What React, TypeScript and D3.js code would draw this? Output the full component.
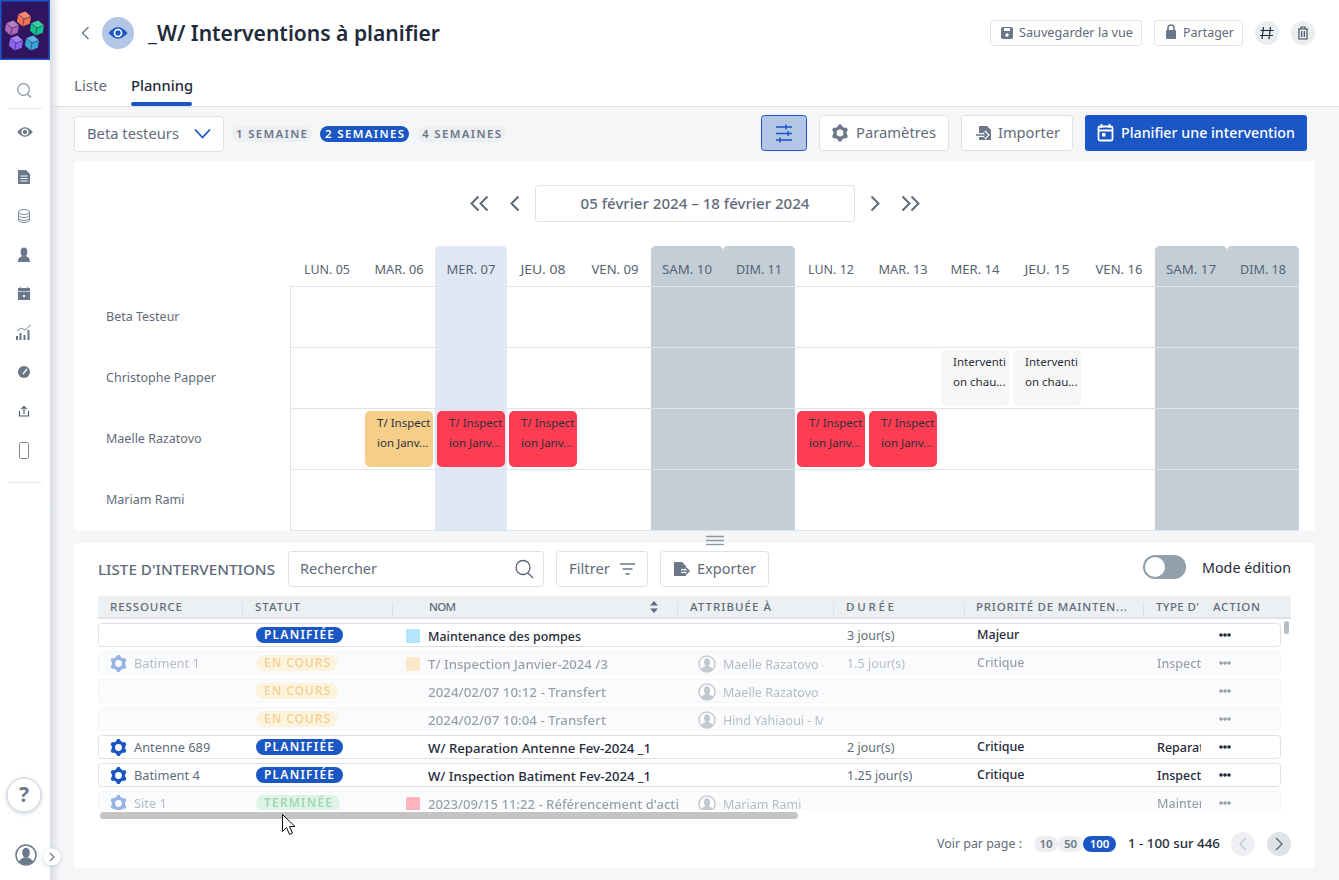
import { path, range, scaleBand, scaleLinear } from "d3";
import type { ReactNode } from "react";

const days = ["LUN. 05", "MAR. 06", "MER. 07", "JEU. 08", "VEN. 09", "SAM. 10", "DIM. 11", "LUN. 12", "MAR. 13", "MER. 14", "JEU. 15", "VEN. 16", "SAM. 17", "DIM. 18"];
const weekendDays = ["SAM. 10", "DIM. 11", "SAM. 17", "DIM. 18"];
const currentDay = "MER. 07";
const resources = ["Beta Testeur", "Christophe Papper", "Maelle Razatovo", "Mariam Rami"];

const eventResources = ["Maelle Razatovo", "Maelle Razatovo", "Maelle Razatovo", "Maelle Razatovo", "Maelle Razatovo", "Christophe Papper", "Christophe Papper"];
const eventDays = ["MAR. 06", "MER. 07", "JEU. 08", "LUN. 12", "MAR. 13", "MER. 14", "JEU. 15"];
const eventLines = [
    ["T/ Inspect", "ion Janv..."], ["T/ Inspect", "ion Janv..."], ["T/ Inspect", "ion Janv..."],
    ["T/ Inspect", "ion Janv..."], ["T/ Inspect", "ion Janv..."],
    ["Interventi", "on chau..."], ["Interventi", "on chau..."],
];
const eventKinds = ["late", "over", "over", "over", "over", "idle", "idle"];

const headers = ["RESSOURCE", "STATUT", "NOM", "ATTRIBUÉE À", "DURÉE", "PRIORITÉ DE MAINTEN...", "TYPE D'", "ACTION"];
const rowResources = ["", "Batiment 1", "", "", "Antenne 689", "Batiment 4", "Site 1"];
const rowStatuses = ["PLANIFIÉE", "EN COURS", "EN COURS", "EN COURS", "PLANIFIÉE", "PLANIFIÉE", "TERMINÉE"];
const rowNames = ["Maintenance des pompes", "T/ Inspection Janvier-2024 /3", "2024/02/07 10:12 - Transfert", "2024/02/07 10:04 - Transfert", "W/ Reparation Antenne Fev-2024 _1", "W/ Inspection Batiment Fev-2024 _1", "2023/09/15 11:22 - Référencement d'actifs"];
const rowAssignees = ["", "Maelle Razatovo - M", "Maelle Razatovo - M", "Hind Yahiaoui - Maintenance", "", "", "Mariam Rami"];
const rowDurations = ["3 jour(s)", "1.5 jour(s)", "", "", "2 jour(s)", "1.25 jour(s)", ""];
const rowPriorities = ["Majeur", "Critique", "", "", "Critique", "Critique", ""];
const rowTypes = ["", "Inspection", "", "", "Reparation", "Inspection", "Maintenance"];
const rowSwatches = ["plan", "late", "", "", "", "", "over"];
const rowMuted = [false, true, true, true, false, false, true];
const perPage = ["10", "50", "100"];

const FONT = "'Noto Sans', sans-serif";
const BLUE = "#1a56c4";
const INK = "#1f2a3a";
const GREY = "#5f6b7a";
const LINE = "#dde1e6";

const eventColors: Record<string, string> = { late: "#f5cf8a", over: "#ff3d52", idle: "#f8f7f8" };
const swatchColors: Record<string, string> = { plan: "#b3e5fc", late: "#f5cf8a", over: "#ff5b6e" };
const statusStyles: Record<string, { fill: string; text: string; width: number; textWidth: number }> = {
    "PLANIFIÉE": { fill: BLUE, text: "#ffffff", width: 87, textWidth: 70 },
    "EN COURS": { fill: "#fbe6b4", text: "#e59a1c", width: 82, textWidth: 66 },
    "TERMINÉE": { fill: "#b5e8c8", text: "#2fa560", width: 84, textWidth: 68 },
};
const dayWidths: Record<string, number> = { LUN: 46, MAR: 49, MER: 49, JEU: 45, VEN: 47, SAM: 50, DIM: 46 };
const nameWidths = [153, 180, 178, 178, 223, 223, 262];
const headerX = [110, 255, 429, 690, 846, 976, 1156, 1213];
const headerW = [72, 45, 27, 81, 48, 151, 43, 47];
const separators = [242, 392, 677, 833, 964, 1143];

const dayX = scaleBand<string>().domain(days).range([291, 1299]);
const resourceY = scaleBand<string>().domain(resources).range([287, 531]);
const rowY = scaleLinear().domain([0, 1]).range([623, 651]);

interface LabelProps {
    x: number;
    y: number;
    size?: number;
    weight?: number;
    fill?: string;
    w?: number;
    spaced?: boolean;
    anchor?: "start" | "middle" | "end";
    children: ReactNode;
}

function Label({ x, y, size = 13, weight = 400, fill = GREY, w, spaced = false, anchor = "start", children }: LabelProps) {
    return (
        <text
            x={x}
            y={y}
            fontSize={size}
            fontWeight={weight}
            fill={fill}
            textAnchor={anchor}
            textLength={w}
            lengthAdjust={w ? (spaced ? "spacing" : "spacingAndGlyphs") : undefined}
        >
            {children}
        </text>
    );
}

function Box({ x, y, width, height, fill = "#fff", stroke = LINE, r = 3 }: { x: number; y: number; width: number; height: number; fill?: string; stroke?: string; r?: number }) {
    return <rect x={x + 0.5} y={y + 0.5} width={width - 1} height={height - 1} rx={r} fill={fill} stroke={stroke} />;
}

function Chevron({ x, y, dir = 1, h = 6, color = GREY, width = 1.8 }: { x: number; y: number; dir?: number; h?: number; color?: string; width?: number }) {
    const p = path();
    p.moveTo(x - (dir * h) / 2, y - h);
    p.lineTo(x + (dir * h) / 2, y);
    p.lineTo(x - (dir * h) / 2, y + h);
    return <path d={p.toString()} fill="none" stroke={color} strokeWidth={width} />;
}

// six teeth, four corners each
function gearPath(cx: number, cy: number, r: number, hole: number) {
    const p = path();
    range(24).forEach((i) => {
        const a = (i / 24) * 2 * Math.PI - Math.PI / 2 - Math.PI / 24;
        const rr = i % 4 < 2 ? r : r * 0.78;
        const px = cx + rr * Math.cos(a);
        const py = cy + rr * Math.sin(a);
        if (i === 0) p.moveTo(px, py);
        else p.lineTo(px, py);
    });
    p.closePath();
    p.moveTo(cx + hole, cy);
    p.arc(cx, cy, hole, 0, 2 * Math.PI);
    return p.toString();
}

function Gear({ x, y, r, color }: { x: number; y: number; r: number; color: string }) {
    return <path d={gearPath(x, y, r, r * 0.4)} fill={color} fillRule="evenodd" />;
}

function Avatar({ x, y, r, color }: { x: number; y: number; r: number; color: string }) {
    return (
        <g>
            <circle cx={x} cy={y} r={r} fill="#fff" stroke={color} strokeWidth={1.5} />
            <ellipse cx={x} cy={y - r * 0.22} rx={r * 0.38} ry={r * 0.5} fill={color} />
            <path d={`M${x - r * 0.75} ${y + r * 0.65} Q${x} ${y - r * 0.2} ${x + r * 0.75} ${y + r * 0.65} Q${x} ${y + r * 1.2} ${x - r * 0.75} ${y + r * 0.65}Z`} fill={color} />
        </g>
    );
}

function Eye({ x, y, s, color }: { x: number; y: number; s: number; color: string }) {
    return (
        <g transform={`translate(${x},${y}) scale(${s})`}>
            <path d="M-10 0 Q0 -12 10 0 Q0 12 -10 0Z" fill={color} />
            <circle r={4.6} fill="#fff" />
            <circle r={2.8} fill={color} />
        </g>
    );
}

function Doc({ x, y, color, mark }: { x: number; y: number; color: string; mark: string }) {
    const arrow = mark === "arrow" ? "M-9 2 H2 M-1 -1 L2 2 L-1 5" : "M1 2 H9 M6 -1 L9 2 L6 5";
    return (
        <g transform={`translate(${x},${y})`}>
            <path d="M-6 -7 H2 L6 -3 V7 H-6Z" fill={color} />
            {mark === "lines" && <path d="M-3.5 -1 H3.5 M-3.5 1.5 H3.5 M-3.5 4 H3.5" stroke="#fff" strokeWidth={1} />}
            {mark !== "lines" && <path d={arrow} stroke="#fff" strokeWidth={4} fill="none" />}
            {mark !== "lines" && <path d={arrow} stroke={color} strokeWidth={1.6} fill="none" />}
        </g>
    );
}

function Cube({ x, y, color }: { x: number; y: number; color: string }) {
    const r = 7.5;
    const pts = range(6).map((i) => {
        const a = (Math.PI / 3) * i - Math.PI / 2 + 0.18;
        return [x + r * Math.cos(a), y + r * Math.sin(a)];
    });
    const hex = pts.map((p) => p.join(",")).join(" ");
    const lid = [pts[5], pts[0], pts[1], [x, y]].map((p) => p.join(",")).join(" ");
    return (
        <g>
            <polygon points={hex} fill={color} />
            <polygon points={lid} fill="#fff" opacity={0.18} />
            <path d={`M${x} ${y} L${pts[1][0]} ${pts[1][1]} M${x} ${y} L${pts[3][0]} ${pts[3][1]} M${x} ${y} L${pts[5][0]} ${pts[5][1]}`} stroke="#2f1460" strokeWidth={0.6} />
        </g>
    );
}

function Sidebar() {
    const iconColor = "#6b7889";
    return (
        <g>
            <rect x={50} width={10} height={880} fill="url(#sideShadow)" />
            <rect width={50} height={880} fill="#fff" />
            <rect x={0.75} y={0.75} width={48.5} height={58.5} fill="#2f1460" stroke={BLUE} strokeWidth={1.5} />
            <Cube x={24} y={19} color="#f0714e" />
            <Cube x={12} y={28} color="#a866b4" />
            <Cube x={37} y={28} color="#12c48c" />
            <Cube x={16} y={43} color="#8a66f0" />
            <Cube x={32} y={43} color="#3aa6d8" />

            <circle cx={23.5} cy={89.5} r={5.8} fill="none" stroke="#8792a0" strokeWidth={1.2} />
            <path d="M27.5 94 L31 97.5" stroke="#8792a0" strokeWidth={1.2} />
            <path d="M8 108.5 H42 M8 482.5 H42" stroke="#e8eaed" />
            <Eye x={25} y={132} s={0.78} color={iconColor} />
            <Doc x={24} y={177} color={iconColor} mark="lines" />
            <g fill="none" stroke="#8792a0" strokeWidth={1}>
                <ellipse cx={24} cy={212} rx={5.5} ry={2.5} />
                <path d="M18.5 212 V220 A5.5 2.5 0 0 0 29.5 220 V212 M18.5 215 A5.5 2.5 0 0 0 29.5 215 M18.5 218 A5.5 2.5 0 0 0 29.5 218" />
            </g>
            <ellipse cx={24} cy={252} rx={3.4} ry={4.5} fill={iconColor} />
            <path d="M18 262 C18 257 21 257 24 255 C27 257 30 257 30 262Z" fill={iconColor} />
            <rect x={18} y={288} width={12} height={12} fill={iconColor} />
            <path d="M20.5 287 V289 M27.5 287 V289" stroke={iconColor} strokeWidth={1} />
            <path d="M18 291.5 H30" stroke="#fff" strokeWidth={0.6} />
            <rect x={23} y={295} width={2} height={2} fill="#fff" />
            <path d="M17 340 V336 M20.5 340 V333 M24.5 340 V335 M28.5 340 V330" stroke={iconColor} strokeWidth={2} />
            <path d="M17 331 L21 328 L25 330 L31 325" fill="none" stroke={iconColor} strokeWidth={0.9} />
            <circle cx={24} cy={372} r={6} fill={iconColor} />
            <path d="M23 374 L27 369" stroke="#fff" strokeWidth={1.3} />
            <path d="M19.5 411 V416 H28.5 V411 M24 414 V406.5 M21.5 409 L24 406.5 L26.5 409" fill="none" stroke="#4a5666" strokeWidth={1.1} />
            <rect x={19.5} y={442.5} width={9} height={16} rx={1} fill="none" stroke="#7e8a98" strokeWidth={1} />

            <circle cx={24} cy={795} r={17} fill="#fff" stroke="#c8d2dc" strokeWidth={1} filter="url(#softShadow)" />
            <text x={24} y={802} fontSize={21} fontWeight={700} fill={iconColor} textAnchor="middle">?</text>
            <Avatar x={26} y={855} r={10} color={iconColor} />
            <circle cx={52} cy={857} r={8.5} fill="#fff" filter="url(#softShadow)" />
            <Chevron x={52} y={857} h={4} color={iconColor} width={1.2} />
        </g>
    );
}

function Header() {
    return (
        <g>
            <rect x={50} width={1289} height={106} fill="#fff" />
            <path d="M50 106.5 H1339" stroke={LINE} />
            <Chevron x={85.5} y={33} dir={-1} h={6} color="#6b7889" width={1.4} />
            <circle cx={118} cy={33} r={16} fill="#b3c6e6" />
            <Eye x={118} y={33} s={0.95} color={BLUE} />
            <Label x={148} y={41} size={22} weight={600} fill={INK} w={292}>_W/ Interventions à planifier</Label>
            <Label x={74} y={91} size={15} w={33}>Liste</Label>
            <Label x={131} y={91} size={15} fill={INK} weight={500} w={62}>Planning</Label>
            <rect x={131} y={102} width={61} height={4} rx={2} fill={BLUE} />

            <Box x={990} y={20} width={152} height={26} />
            <rect x={1001} y={27} width={12} height={12} rx={2} fill="#6b7889" />
            <rect x={1004} y={28} width={6} height={3} fill="#fff" />
            <circle cx={1007} cy={35} r={1.7} fill="#fff" />
            <Label x={1019} y={37} size={13} w={114}>Sauvegarder la vue</Label>
            <Box x={1154} y={20} width={89} height={26} />
            <path d="M1168 30 V28 A3 3 0 0 1 1174 28 V30" fill="none" stroke="#6b7889" strokeWidth={1.6} />
            <rect x={1166} y={30} width={10} height={9} rx={1} fill="#6b7889" />
            <Label x={1183} y={37} size={13} w={51}>Partager</Label>
            <ellipse cx={1267} cy={33} rx={12} ry={12} fill="#ebeef1" />
            <path d="M1263.5 27 L1262 39 M1270.5 27 L1269 39 M1260.5 30.5 H1273.5 M1260 35.5 H1273" stroke={INK} strokeWidth={1.2} />
            <ellipse cx={1303} cy={33} rx={12} ry={12} fill="#ebeef1" />
            <path d="M1298 29 H1308 M1301 29 V27 H1305 V29 M1299 29 V39 H1307 V29 M1301.7 31 V37 M1304.3 31 V37" fill="none" stroke="#3c4654" strokeWidth={1.1} />
        </g>
    );
}

function Toolbar() {
    const pills = [
        { x: 232, w: 80, tx: 236, tw: 71, text: "1 SEMAINE", on: false },
        { x: 320, w: 89, tx: 325, tw: 79, text: "2 SEMAINES", on: true },
        { x: 417, w: 89, tx: 422, tw: 79, text: "4 SEMAINES", on: false },
    ];
    return (
        <g>
            <Box x={74} y={116} width={150} height={36} />
            <Label x={87} y={139} size={15} w={92}>Beta testeurs</Label>
            <path d="M195 129.5 L202.5 137.5 L210 129.5" fill="none" stroke={BLUE} strokeWidth={1.8} />
            {pills.map((p) => (
                <g key={p.text}>
                    <rect x={p.x} y={126} width={p.w} height={16} rx={8} fill={p.on ? BLUE : "#edeff2"} />
                    <Label x={p.tx} y={138} size={11.5} weight={600} fill={p.on ? "#fff" : "#6b7889"} w={p.tw} spaced>{p.text}</Label>
                </g>
            ))}

            <Box x={761} y={115} width={46} height={36} fill="#b3c6e6" stroke={BLUE} />
            <path d="M776 127 H792 M776 133.5 H792 M776 140 H792 M786 124.5 V129.5 M788 131 V136 M780 137.5 V142.5" stroke={BLUE} strokeWidth={1.5} />
            <Box x={819} y={115} width={130} height={36} />
            <Gear x={840} y={133} r={8.5} color="#6b7889" />
            <Label x={856} y={138} size={15} w={80}>Paramètres</Label>
            <Box x={961} y={115} width={112} height={36} />
            <Doc x={985} y={133} color="#6b7889" mark="arrow" />
            <Label x={998} y={138} size={15} w={62}>Importer</Label>
            <rect x={1085} y={115} width={222} height={36} rx={3} fill={BLUE} />
            <rect x={1098.5} y={126.5} width={14} height={14} rx={1.5} fill="none" stroke="#fff" strokeWidth={1.8} />
            <path d="M1098 130.5 H1113 M1101.5 124 V128 M1109.5 124 V128" stroke="#fff" strokeWidth={1.8} />
            <rect x={1102} y={133} width={3.5} height={3.5} fill="#fff" />
            <Label x={1121} y={138} size={15} weight={500} fill="#fff" w={174}>Planifier une intervention</Label>
        </g>
    );
}

function roundedTop(x: number, y: number, w: number, bottom: number, r: number) {
    const p = path();
    p.moveTo(x, bottom);
    p.lineTo(x, y + r);
    p.quadraticCurveTo(x, y, x + r, y);
    p.lineTo(x + w - r, y);
    p.quadraticCurveTo(x + w, y, x + w, y + r);
    p.lineTo(x + w, bottom);
    p.closePath();
    return p.toString();
}

function Planning() {
    const step = dayX.bandwidth();
    const rowH = resourceY.bandwidth();
    const top = resourceY(resources[0]) as number;
    return (
        <g>
            <rect x={74} y={161} width={1241} height={370} rx={3} fill="#fff" />

            <Chevron x={475} y={203.5} dir={-1} h={7} width={2} />
            <Chevron x={484} y={203.5} dir={-1} h={7} width={2} />
            <Chevron x={515} y={203.5} dir={-1} h={7} width={2} />
            <Box x={535} y={185} width={320} height={37} />
            <Label x={695} y={209} size={15} weight={500} anchor="middle" w={229}>05 février 2024 – 18 février 2024</Label>
            <Chevron x={875} y={203.5} h={7} width={2} />
            <Chevron x={906} y={203.5} h={7} width={2} />
            <Chevron x={915} y={203.5} h={7} width={2} />

            {days.filter((d) => d === currentDay || weekendDays.includes(d)).map((d) => (
                <path
                    key={d}
                    d={roundedTop(dayX(d) as number, 246, step, 531, 5)}
                    fill={d === currentDay ? "#dfe8f4" : "#c3ced7"}
                />
            ))}
            {days.map((d) => (
                <Label key={d} x={(dayX(d) as number) + step / 2} y={274} size={12.5} anchor="middle" fill="#566372" w={dayWidths[d.slice(0, 3)]}>{d}</Label>
            ))}

            {resources.map((r) => (
                <g key={r}>
                    <path d={`M291 ${(resourceY(r) as number) - 0.5} H1299`} stroke="#e0e3e7" />
                    <Label x={106} y={(resourceY(r) as number) + rowH / 2 + 3} size={12.5}>{r}</Label>
                </g>
            ))}
            <path d={`M291 530.5 H1299 M290.5 ${top - 1} V531`} stroke="#e0e3e7" />

            {eventDays.map((d, i) => {
                const x = (dayX(d) as number) + 2;
                const y = (resourceY(eventResources[i]) as number) + 2;
                const id = `event-${i}`;
                return (
                    <g key={id}>
                        <clipPath id={id}><rect x={x} y={y} width={68} height={56} /></clipPath>
                        <rect x={x} y={y} width={68} height={56} rx={5} fill={eventColors[eventKinds[i]]} />
                        <g clipPath={`url(#${id})`}>
                            {eventLines[i].map((line, j) => (
                                <Label key={line} x={x + 12} y={y + 16 + j * 20} size={11.5} fill="#2a2f3a">{line}</Label>
                            ))}
                        </g>
                    </g>
                );
            })}
        </g>
    );
}

function Row({ index }: { index: number }) {
    const y = rowY(index);
    const muted = rowMuted[index];
    const status = statusStyles[rowStatuses[index]];
    const swatch = swatchColors[rowSwatches[index]];
    return (
        <g opacity={muted ? 0.45 : 1}>
            <Box x={98} y={y} width={1183} height={24} fill={muted ? "#f6f8f9" : "#fff"} stroke={muted ? "#e6e9ec" : LINE} />
            {rowResources[index] && (
                <g>
                    <Gear x={118.5} y={y + 12.5} r={8.5} color={BLUE} />
                    <Label x={134} y={y + 17} size={12.8}>{rowResources[index]}</Label>
                </g>
            )}
            <rect x={256} y={y + 4} width={status.width} height={16} rx={8} fill={status.fill} />
            <Label x={264} y={y + 16} size={12} weight={600} fill={status.text} w={status.textWidth} spaced>{rowStatuses[index]}</Label>
            {swatch && <rect x={406} y={y + 6} width={14} height={14} rx={1.5} fill={swatch} />}
            <g clipPath="url(#nameClip)">
                <Label x={428} y={y + 18} size={12.5} weight={500} fill={INK} w={nameWidths[index]}>{rowNames[index]}</Label>
            </g>
            {rowAssignees[index] && (
                <g>
                    <Avatar x={707} y={y + 13} r={8} color="#808a96" />
                    <g clipPath="url(#assigneeClip)">
                        <Label x={723} y={y + 18} size={12.5}>{rowAssignees[index]}</Label>
                    </g>
                </g>
            )}
            <Label x={847} y={y + 17} size={12.5}>{rowDurations[index]}</Label>
            <Label x={977} y={y + 16} size={12.5} weight={500} fill={INK}>{rowPriorities[index]}</Label>
            <g clipPath="url(#typeClip)">
                <Label x={1157} y={y + 17} size={12.5} weight={500} fill={INK}>{rowTypes[index]}</Label>
            </g>
            {[-4, 0, 4].map((dx) => <circle key={dx} cx={1225 + dx} cy={y + 12} r={1.8} fill={INK} />)}
        </g>
    );
}

function InterventionList() {
    return (
        <g>
            <path d="M706 536.5 H724 M706 540.5 H724 M706 544.5 H724" stroke="#8a97a5" strokeWidth={1.4} />
            <rect x={74} y={543} width={1241} height={325} rx={3} fill="#fff" />
            <path d="M706 544.5 H724" stroke="#8a97a5" strokeWidth={1.4} />

            <Label x={98} y={575} size={14} weight={500} w={177}>LISTE D'INTERVENTIONS</Label>
            <Box x={288} y={551} width={256} height={36} />
            <Label x={300} y={574} size={15} w={77}>Rechercher</Label>
            <circle cx={523} cy={567.5} r={7} fill="none" stroke="#5a6675" strokeWidth={1.3} />
            <path d="M528 573 L533 578" stroke="#5a6675" strokeWidth={1.3} />
            <Box x={556} y={551} width={92} height={36} />
            <Label x={569} y={574} size={15} w={41}>Filtrer</Label>
            <path d="M620 564 H635 M622.5 569 H632.5 M625.5 574 H629.5" stroke="#6b7889" strokeWidth={1.6} />
            <Box x={660} y={551} width={109} height={36} />
            <Doc x={680} y={569} color="#6b7889" mark="arrowout" />
            <Label x={697} y={574} size={15} w={59}>Exporter</Label>

            <rect x={1143} y={555} width={43} height={24} rx={12} fill="#929fac" />
            <circle cx={1155} cy={567} r={10} fill="#fff" />
            <Label x={1202} y={573} size={15} fill={INK} w={89}>Mode édition</Label>

            <rect x={98} y={596} width={1193} height={23} fill="#edf0f3" />
            <path d="M98 618 H1291" stroke="#e0e3e7" strokeWidth={2} />
            {separators.map((x) => <path key={x} d={`M${x + 0.5} 603 V617`} stroke="#dde1e6" strokeWidth={1} />)}
            {headers.map((h, i) => (
                <Label key={h} x={headerX[i]} y={611} size={11.5} weight={500} w={headerW[i]} spaced>{h}</Label>
            ))}
            <path d="M654 601 L658 605.5 H650Z M654 613 L658 608.5 H650Z" fill="#5f6b7a" />

            <g clipPath="url(#tableClip)">
                {rowNames.map((n, i) => <Row key={n} index={i} />)}
            </g>
            <rect x={1284} y={621} width={5} height={13} rx={2.5} fill="#b8bec5" />
            <rect x={100} y={812} width={698} height={7} rx={3.5} fill="#c4c4c4" />

            <Label x={937} y={848} size={13} w={85}>Voir par page :</Label>
            {perPage.map((p, i) => {
                const x = [1034, 1058, 1083][i];
                const w = [24, 25, 33][i];
                const on = p === "100";
                return (
                    <g key={p}>
                        <rect x={x} y={836} width={w} height={16} rx={8} fill={on ? BLUE : "#edeff2"} />
                        <Label x={x + w / 2} y={848} size={11.5} weight={600} fill={on ? "#fff" : "#6b7889"} anchor="middle">{p}</Label>
                    </g>
                );
            })}
            <Label x={1128} y={848} size={13} weight={500} fill={INK} w={92}>1 - 100 sur 446</Label>
            <circle cx={1243} cy={844} r={12} fill="#edeff2" />
            <Chevron x={1243} y={844} dir={-1} h={6} color="#c3cad2" width={1.4} />
            <circle cx={1279} cy={844} r={12} fill="#dfe3e8" />
            <Chevron x={1279} y={844} h={6} color="#5f6b7a" width={1.4} />

            <path
                d="M282.5 814.5 V831.5 L286.5 827.5 L289.5 834.5 L292.5 833 L289.5 826.5 L295 826.5Z"
                fill="#fff"
                stroke="#111"
                strokeWidth={1}
            />
        </g>
    );
}

export default function App() {
    return (
        <svg
            width={1339}
            height={880}
            viewBox="0 0 1339 880"
            fontFamily={FONT}
            style={{ position: "absolute", left: 0, top: 0, display: "block" }}
        >
            <defs>
                <linearGradient id="sideShadow" x1="0" x2="1" y1="0" y2="0">
                    <stop offset="0" stopColor="#d9dce2" />
                    <stop offset="1" stopColor="#d9dce2" stopOpacity={0} />
                </linearGradient>
                <filter id="softShadow" x="-30%" y="-30%" width="160%" height="160%">
                    <feDropShadow dx={0} dy={1} stdDeviation={2} floodColor="#8a97a5" floodOpacity={0.45} />
                </filter>
                <clipPath id="tableClip"><rect x={90} y={621} width={1195} height={189} /></clipPath>
                <clipPath id="nameClip"><rect x={400} y={600} width={279} height={220} /></clipPath>
                <clipPath id="assigneeClip"><rect x={720} y={600} width={103} height={220} /></clipPath>
                <clipPath id="typeClip"><rect x={1150} y={600} width={51} height={220} /></clipPath>
            </defs>
            <rect width={1339} height={880} fill="#f4f6f8" />
            <Header />
            <Toolbar />
            <Planning />
            <InterventionList />
            <Sidebar />
        </svg>
    );
}
